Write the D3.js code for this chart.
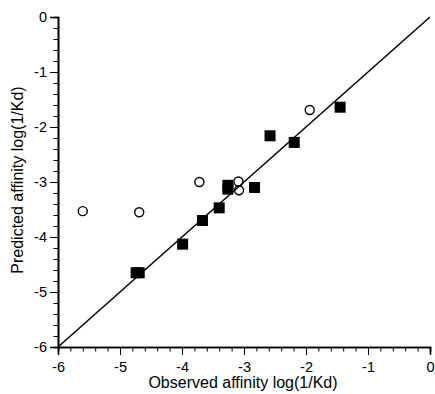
<!DOCTYPE html>
<html><head><meta charset="utf-8">
<script src="https://cdn.jsdelivr.net/npm/d3@7"></script>
<style>body{margin:0;background:#fff}svg{display:block}text{font-family:"Liberation Sans",Arial,Helvetica,sans-serif}</style>
</head><body>
<svg id="c" width="435" height="394"></svg>
<script>
// Filled squares series
const squareX = [-4.74, -4.69, -3.99, -3.67, -3.40, -3.26, -3.26, -2.83, -2.58, -2.19, -1.45];
const squareY = [-4.65, -4.65, -4.13, -3.70, -3.47, -3.06, -3.13, -3.10, -2.16, -2.28, -1.64];
// Open circles series
const circleX = [-5.60, -4.69, -3.72, -3.09, -3.08, -1.94];
const circleY = [-3.53, -3.55, -3.00, -2.99, -3.15, -1.69];
// Identity line
const lineX = [-6, 0];
const lineY = [-6, 0];
// Ticks
const majorTicks = [-6, -5, -4, -3, -2, -1, 0];
const minorTicks = d3.range(-6, 0.0001, 0.2).map(v => Math.round(v * 10) / 10);
const xTitle = "Observed affinity log(1/Kd)";
const yTitle = "Predicted affinity log(1/Kd)";

const svg = d3.select("#c");
const x = d3.scaleLinear().domain([-6, 0]).range([58, 430]);
const y = d3.scaleLinear().domain([-6, 0]).range([347, 17]);

// axes
const gx = svg.append("g").attr("transform", `translate(0,${y(-6)})`);
gx.call(d3.axisBottom(x).tickValues(minorTicks).tickSize(4.5).tickFormat(""));
gx.call(g => g.append("g").call(d3.axisBottom(x).tickValues(majorTicks).tickSize(8).tickPadding(7).tickFormat(d => String(d))));
const gy = svg.append("g").attr("transform", `translate(${x(-6)},0)`);
gy.call(d3.axisLeft(y).tickValues(minorTicks).tickSize(4.5).tickFormat(""));
gy.call(g => g.append("g").call(d3.axisLeft(y).tickValues(majorTicks).tickSize(8).tickPadding(3).tickFormat(d => String(d))));
svg.selectAll(".domain").attr("stroke", "#000").attr("stroke-width", 1.6);
svg.selectAll(".tick line").attr("stroke", "#000").attr("stroke-width", 1);
svg.selectAll(".tick text").attr("fill", "#000").attr("font-size", 14.5)
   .attr("font-family", '"Liberation Sans",Arial,Helvetica,sans-serif');

// identity line
svg.append("path")
  .attr("d", d3.line().x(d => x(d[0])).y(d => y(d[1]))(lineX.map((v, i) => [v, lineY[i]])))
  .attr("stroke", "#000").attr("stroke-width", 1.5).attr("fill", "none");

// circles
svg.append("g").selectAll("circle").data(circleX.map((v, i) => [v, circleY[i]])).join("circle")
  .attr("cx", d => x(d[0])).attr("cy", d => y(d[1])).attr("r", 4.5)
  .attr("fill", "none").attr("stroke", "#000").attr("stroke-width", 1.4);

// squares
const s = 11;
svg.append("g").selectAll("rect").data(squareX.map((v, i) => [v, squareY[i]])).join("rect")
  .attr("x", d => x(d[0]) - s / 2).attr("y", d => y(d[1]) - s / 2)
  .attr("width", s).attr("height", s).attr("fill", "#000");

// titles
svg.append("text").attr("x", (x(-6) + x(0)) / 2 - 1).attr("y", 388).attr("text-anchor", "middle")
  .attr("font-size", 16).text(xTitle);
svg.append("text").attr("transform", `translate(23,${(y(-6) + y(0)) / 2 - 2}) rotate(-90)`)
  .attr("text-anchor", "middle").attr("font-size", 16).text(yTitle);
</script>
</body></html>
